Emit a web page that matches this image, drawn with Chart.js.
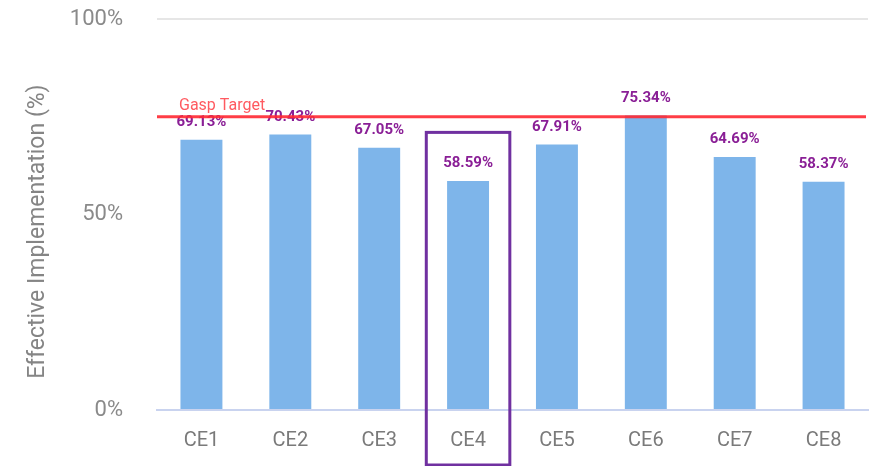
<!DOCTYPE html>
<html>
<head>
<meta charset="utf-8">
<style>
html,body{margin:0;padding:0;background:#fff;}
#wrap{width:869px;height:466px;position:relative;}
</style>
<script src="https://cdn.jsdelivr.net/npm/chart.js@4/dist/chart.umd.min.js"></script>
</head>
<body>
<div id="wrap"><canvas id="c" width="869" height="466"></canvas></div>
<script>
const categories = ["CE1","CE2","CE3","CE4","CE5","CE6","CE7","CE8"];
const values = [69.13, 70.43, 67.05, 58.59, 67.91, 75.34, 64.69, 58.37];
const yTicks = [0, 50, 100];
const targetValue = 75;
const targetLabel = "Gasp Target";
const yTitle = "Effective Implementation (%)";
const highlightIndex = 3;
const highlightTop = 71;

const FONT = "'Roboto',sans-serif";

const overlay = {
  id: 'overlay',
  afterDatasetsDraw(chart) {
    const ctx = chart.ctx;
    const x = chart.scales.x, y = chart.scales.y;
    const area = chart.chartArea;
    const meta = chart.getDatasetMeta(0);
    ctx.save();
    ctx.fillStyle = '#8a1f96';
    ctx.font = "bold 15px " + FONT;
    ctx.textAlign = 'center';
    ctx.textBaseline = 'bottom';
    meta.data.forEach((bar, i) => {
      ctx.fillText(values[i].toFixed(2) + '%', bar.x, bar.y - 10);
    });
    const ty = y.getPixelForValue(targetValue);
    ctx.strokeStyle = 'rgba(255,40,50,0.9)';
    ctx.lineWidth = 3;
    ctx.beginPath();
    ctx.moveTo(area.left, ty);
    ctx.lineTo(area.right - 2, ty);
    ctx.stroke();
    ctx.fillStyle = '#ff5a60';
    ctx.font = "16px " + FONT;
    ctx.textAlign = 'left';
    ctx.textBaseline = 'bottom';
    ctx.fillText(targetLabel, area.left + 22, ty - 3);
    const step = (x.getPixelForValue(1) - x.getPixelForValue(0));
    const cx = x.getPixelForValue(highlightIndex);
    const half = step * 0.47;
    const top = y.getPixelForValue(highlightTop);
    ctx.strokeStyle = '#7030a0';
    ctx.lineWidth = 3;
    ctx.strokeRect(cx - half, top, half * 2, chart.height - top - 1);
    ctx.restore();
  }
};

new Chart(document.getElementById('c'), {
  type: 'bar',
  data: {
    labels: categories,
    datasets: [{
      data: values,
      backgroundColor: 'rgb(126,181,234)',
      borderWidth: 0,
      barPercentage: 0.59,
      categoryPercentage: 0.8
    }]
  },
  options: {
    responsive: false,
    animation: false,
    layout: { padding: { top: 19, right: 1, left: 0, bottom: 0 } },
    plugins: { legend: { display: false }, tooltip: { enabled: false } },
    scales: {
      x: {
        grid: { display: false, drawTicks: false },
        border: { display: true, color: '#c9d3ef', width: 2 },
        ticks: { color: '#7a7a7a', font: { family: FONT, size: 20 }, padding: 19 },
        afterFit(s) { s.height = 56; }
      },
      y: {
        min: 0, max: 100,
        afterBuildTicks(s) { s.ticks = yTicks.map(v => ({ value: v })); },
        grid: {
          drawTicks: true, tickLength: 31, tickColor: 'rgba(0,0,0,0)',
          color: (c) => c.tick && c.tick.value === 100 ? '#e6e6e6' : 'rgba(0,0,0,0)',
          lineWidth: 2
        },
        border: { display: false },
        ticks: {
          color: '#8a8a8a', font: { family: FONT, size: 22 }, padding: 3,
          callback: (v) => v + '%'
        },
        title: {
          display: true, text: yTitle + '\u00A0\u00A0\u00A0\u00A0\u00A0\u00A0',
          color: '#858585', font: { family: FONT, size: 23 }, padding: { top: 24, bottom: 0 }
        },
        afterFit(s) { s.width = 157; }
      }
    }
  },
  plugins: [overlay]
});
</script>
</body>
</html>
